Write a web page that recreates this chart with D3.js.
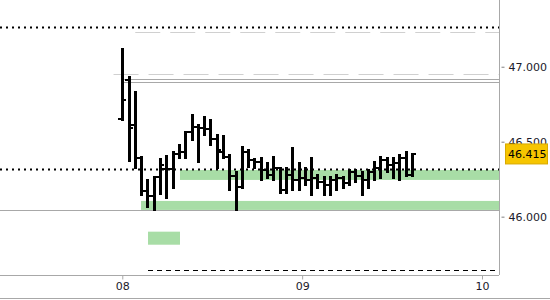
<!DOCTYPE html>
<html>
<head>
<meta charset="utf-8">
<script src="https://cdn.jsdelivr.net/npm/d3@7"></script>
<style>
  body { margin: 0; background: #fff; }
  svg { display: block; }
  text { font-family: "DejaVu Sans", sans-serif; font-size: 11px; }
</style>
</head>
<body>
<div id="chart"></div>
<script>
// OHLC bars, one every ~50 minutes starting at midnight of the 8th
const barStart = new Date(2024, 0, 8, 0, 0);
const barStepMinutes = 50.4;
const opens  = [46.651, 46.911, 46.611, 46.391, 46.171, 46.138, 46.265, 46.318, 46.318, 46.418,
                46.431, 46.565, 46.598, 46.591, 46.585, 46.518, 46.431, 46.398, 46.271, 46.198,
                46.431, 46.378, 46.365, 46.311, 46.278, 46.325, 46.178, 46.278, 46.245, 46.258,
                46.245, 46.258, 46.231, 46.211, 46.245, 46.258, 46.225, 46.298, 46.271, 46.245,
                46.298, 46.325, 46.378, 46.345, 46.358, 46.391, 46.278];
const highs  = [47.118, 46.931, 46.831, 46.398, 46.245, 46.265, 46.385, 46.405, 46.431, 46.478,
                46.565, 46.678, 46.611, 46.665, 46.645, 46.545, 46.538, 46.411, 46.298, 46.465,
                46.445, 46.385, 46.391, 46.358, 46.398, 46.325, 46.325, 46.458, 46.358, 46.325,
                46.391, 46.278, 46.265, 46.265, 46.278, 46.265, 46.311, 46.311, 46.298, 46.311,
                46.365, 46.398, 46.391, 46.391, 46.411, 46.431, 46.418];
const lows   = [46.645, 46.371, 46.325, 46.145, 46.065, 46.045, 46.151, 46.125, 46.191, 46.391,
                46.391, 46.511, 46.365, 46.545, 46.478, 46.325, 46.391, 46.178, 46.045, 46.191,
                46.331, 46.325, 46.245, 46.258, 46.245, 46.158, 46.158, 46.178, 46.178, 46.211,
                46.145, 46.191, 46.145, 46.145, 46.178, 46.191, 46.211, 46.231, 46.145, 46.191,
                46.245, 46.258, 46.298, 46.258, 46.245, 46.271, 46.271];
const closes = [46.778, 46.591, 46.391, 46.171, 46.138, 46.265, 46.345, 46.318, 46.418, 46.431,
                46.565, 46.598, 46.591, 46.585, 46.518, 46.445, 46.398, 46.271, 46.198, 46.431,
                46.378, 46.365, 46.311, 46.278, 46.325, 46.178, 46.278, 46.245, 46.258, 46.245,
                46.258, 46.231, 46.211, 46.245, 46.258, 46.225, 46.298, 46.271, 46.245, 46.298,
                46.325, 46.378, 46.345, 46.358, 46.391, 46.278, 46.415];

// horizontal levels: price, where it starts, kind
const levelPrices = [47.265, 47.231, 46.951, 46.915, 46.898, 46.318, 46.045, 45.645];
const levelStarts = ["2024-01-07T07:41", "2024-01-08T01:44", "2024-01-07T22:50", "2024-01-08T00:00",
                     "2024-01-08T00:00", "2024-01-07T07:41", "2024-01-07T07:41", "2024-01-08T03:26"];
const levelKinds  = ["dotted", "greyDash", "greyDash", "greySolid", "greySolid", "dotted", "greySolid", "blackDash"];

// green zones
const zoneTops    = [46.311, 46.105, 45.900];
const zoneBottoms = [46.245, 46.045, 45.813];
const zoneStarts  = ["2024-01-08T07:42", "2024-01-08T02:30", "2024-01-08T03:26"];
const zoneEnds    = ["2024-01-10T02:16", "2024-01-10T02:16", "2024-01-08T07:42"];

const yTicks = [46.0, 46.5, 47.0];
const lastPrice = 46.415;

const W = 550, H = 300;
const plotW = 499, plotH = 275;
const parse = d3.timeParse("%Y-%m-%dT%H:%M");

const x = d3.scaleTime()
    .domain([parse("2024-01-07T07:41"), parse("2024-01-10T02:16")])
    .range([0, plotW]);
const y = d3.scaleLinear()
    .domain([45.611, 47.445])
    .range([plotH, 0]);

const bars = opens.map((o, i) => ({
  t: new Date(barStart.getTime() + i * barStepMinutes * 60000),
  o: o, h: highs[i], l: lows[i], c: closes[i]
}));

const svg = d3.select("#chart").append("svg")
    .attr("width", W)
    .attr("height", H);

svg.append("defs").append("clipPath").attr("id", "plotclip")
  .append("rect").attr("width", plotW).attr("height", plotH);

const plot = svg.append("g").attr("clip-path", "url(#plotclip)");

// zones
plot.append("g").selectAll("rect")
  .data(zoneTops)
  .join("rect")
    .attr("x", (d, i) => x(parse(zoneStarts[i])))
    .attr("width", (d, i) => x(parse(zoneEnds[i])) - x(parse(zoneStarts[i])))
    .attr("y", d => y(d))
    .attr("height", (d, i) => y(zoneBottoms[i]) - y(d))
    .attr("fill", "#a8dda6");

const levelStyle = {
  dotted:    {stroke: "#000", width: 2, dash: "2,4"},
  greyDash:  {stroke: "#d0d0d0", width: 1, dash: "25,10"},
  greySolid: {stroke: "#a8a8a8", width: 1, dash: null},
  blackDash: {stroke: "#000", width: 1, dash: "5,4"}
};

plot.append("g").selectAll("line")
  .data(levelPrices)
  .join("line")
    .attr("x1", (d, i) => x(parse(levelStarts[i])))
    .attr("x2", plotW)
    .attr("y1", d => Math.round(y(d)) + 0.5)
    .attr("y2", d => Math.round(y(d)) + 0.5)
    .attr("stroke", (d, i) => levelStyle[levelKinds[i]].stroke)
    .attr("stroke-width", (d, i) => levelStyle[levelKinds[i]].width)
    .attr("stroke-dasharray", (d, i) => levelStyle[levelKinds[i]].dash);

// ohlc
const ohlc = plot.append("g").attr("stroke", "#000").attr("shape-rendering", "crispEdges");
const bg = ohlc.selectAll("g").data(bars).join("g");
bg.append("line")
    .attr("x1", d => Math.round(x(d.t)))
    .attr("x2", d => Math.round(x(d.t)))
    .attr("y1", d => y(d.h) - 1)
    .attr("y2", d => y(d.l) + 1)
    .attr("stroke-width", 3);
bg.append("line")
    .attr("x1", d => Math.round(x(d.t)) - 4)
    .attr("x2", d => Math.round(x(d.t)))
    .attr("y1", d => y(d.o))
    .attr("y2", d => y(d.o))
    .attr("stroke-width", 2);
bg.append("line")
    .attr("x1", d => Math.round(x(d.t)))
    .attr("x2", d => Math.round(x(d.t)) + 4)
    .attr("y1", d => y(d.c))
    .attr("y2", d => y(d.c))
    .attr("stroke-width", 2);

// axes
const yAxis = svg.append("g")
    .attr("transform", `translate(${plotW + 0.5},0)`)
    .call(d3.axisRight(y).tickValues(yTicks).tickFormat(d3.format(".3f")).tickSize(5).tickPadding(4));
yAxis.select(".domain").attr("stroke", "#a8a8a8").attr("d", `M0,0V${plotH}`);
yAxis.selectAll(".tick line").attr("stroke", "#808080").attr("x1", 2);
yAxis.selectAll("text").attr("fill", "#1a1a2a").style("font-size", "11px");

const xAxis = svg.append("g")
    .attr("transform", `translate(0,${plotH + 0.5})`)
    .call(d3.axisBottom(x).ticks(d3.timeDay.every(1)).tickFormat(d3.timeFormat("%d")).tickSize(4).tickPadding(3));
xAxis.select(".domain").attr("stroke", "#a8a8a8").attr("d", `M0,0H${plotW}`);
xAxis.selectAll(".tick line").attr("stroke", "#a8a8a8");
xAxis.selectAll("text").attr("fill", "#1a1a2a").style("font-size", "11px");

// bottom border
svg.append("line")
    .attr("x1", 0).attr("x2", W)
    .attr("y1", H - 1.5).attr("y2", H - 1.5)
    .attr("stroke", "#a8a8a8");

// last price tag
const tag = svg.append("g").attr("transform", `translate(505,${y(lastPrice)})`);
tag.append("rect")
    .attr("x", 0.5).attr("y", -10.5)
    .attr("width", 42).attr("height", 20)
    .attr("fill", "#f6c500")
    .attr("stroke", "#d8a900");
tag.append("text")
    .attr("x", 3).attr("dy", "0.35em")
    .attr("fill", "#000")
    .text(d3.format(".3f")(lastPrice));
</script>
</body>
</html>
